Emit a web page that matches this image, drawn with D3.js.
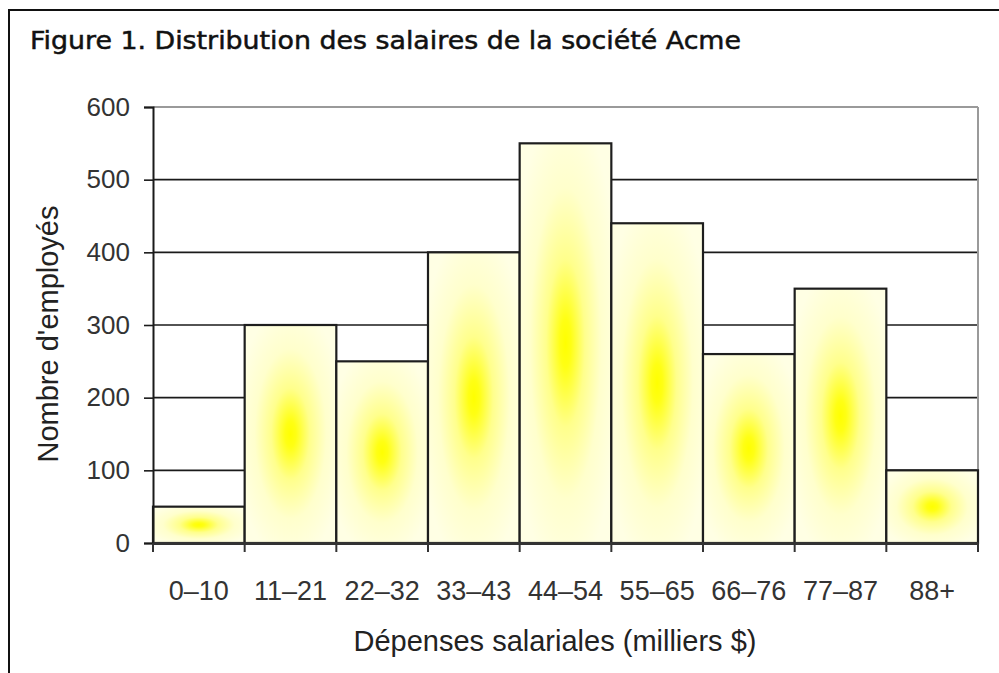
<!DOCTYPE html>
<html>
<head>
<meta charset="utf-8">
<script src="https://cdn.jsdelivr.net/npm/d3@7"></script>
<style>
  html, body { margin: 0; padding: 0; background: #fff; }
  svg { display: block; }
</style>
</head>
<body>
<script>
const categories = ["0–10", "11–21", "22–32", "33–43", "44–54", "55–65", "66–76", "77–87", "88+"];
const values = [50, 300, 250, 400, 550, 440, 260, 350, 100];
const yTicks = [0, 100, 200, 300, 400, 500, 600];
const titleText = "Figure 1. Distribution des salaires de la société Acme";
const xTitle = "Dépenses salariales (milliers $)";
const yTitle = "Nombre d'employés";

const W = 999, H = 673;
const svg = d3.select("body").append("svg").attr("width", W).attr("height", H);

// outer frame
svg.append("rect").attr("x", 9).attr("y", 10).attr("width", W + 10).attr("height", H + 10)
  .attr("fill", "#fff").attr("stroke", "#111").attr("stroke-width", 2);

// title
svg.append("text").attr("x", 30).attr("y", 49)
  .attr("font-family", "'DejaVu Sans', Verdana, sans-serif").attr("font-size", 24)
  .attr("fill", "#111").attr("stroke", "#111").attr("stroke-width", 0.5)
  .attr("textLength", 711).attr("lengthAdjust", "spacingAndGlyphs")
  .text(titleText);

const x = d3.scaleBand().domain(categories).range([153, 978]).padding(0);
const y = d3.scaleLinear().domain([0, 600]).range([543, 107]);

const defs = svg.append("defs");
const grad = defs.append("radialGradient").attr("id", "barGrad")
  .attr("cx", 0.5).attr("cy", 0.5).attr("r", 0.6);
[[0, "#ffff00"], [0.1, "#ffff14"], [0.35, "#ffff8c"], [0.65, "#ffffcc"], [1, "#ffffe4"]]
  .forEach(([o, c]) => grad.append("stop").attr("offset", o).attr("stop-color", c));

// plot background
svg.append("rect").attr("x", 153).attr("y", 107).attr("width", 825).attr("height", 436).attr("fill", "#fff");

// gridlines
svg.append("g").selectAll("line").data(yTicks.filter(d => d > 0)).join("line")
  .attr("x1", 153).attr("x2", 978)
  .attr("y1", d => y(d)).attr("y2", d => y(d))
  .attr("stroke", d => d === 600 ? "#9a9a9a" : "#1a1a1a").attr("stroke-width", d => d === 600 ? 2 : 1.6);
// right border of plot
svg.append("line").attr("x1", 978).attr("x2", 978).attr("y1", 107).attr("y2", 543)
  .attr("stroke", "#9a9a9a").attr("stroke-width", 2);

// bars
svg.append("g").selectAll("rect").data(values).join("rect")
  .attr("x", (d, i) => x(categories[i]))
  .attr("y", d => y(d))
  .attr("width", x.bandwidth())
  .attr("height", d => y(0) - y(d))
  .attr("fill", "url(#barGrad)")
  .attr("stroke", "#1e1e1e").attr("stroke-width", 2.2);

// y axis
const yAxis = svg.append("g").attr("transform", "translate(153,0)")
  .call(d3.axisLeft(y).tickValues(yTicks).tickSize(9).tickPadding(14).tickFormat(d3.format("d")));
yAxis.select(".domain").attr("stroke", "#1a1a1a").attr("stroke-width", 2);
yAxis.selectAll(".tick line").attr("stroke", "#1a1a1a").attr("stroke-width", 1.6);
yAxis.selectAll(".tick text").attr("font-family", "'Liberation Sans', Arial, sans-serif")
  .attr("font-size", 26).attr("fill", "#333");

// x axis
const xAxis = svg.append("g").attr("transform", "translate(0,543)")
  .call(d3.axisBottom(x).tickSize(0).tickPadding(38));
xAxis.select(".domain").attr("stroke", "#333").attr("stroke-width", 3);
xAxis.selectAll(".tick text").attr("font-family", "'Liberation Sans', Arial, sans-serif")
  .attr("font-size", 27).attr("fill", "#333");
// boundary tick marks
const bounds = categories.map(c => x(c)).concat([x.range()[1]]);
svg.append("g").selectAll("line").data(bounds).join("line")
  .attr("x1", d => d).attr("x2", d => d).attr("y1", 543).attr("y2", 552)
  .attr("stroke", "#333").attr("stroke-width", 2);

// axis titles
svg.append("text").attr("x", 555).attr("y", 651).attr("text-anchor", "middle")
  .attr("font-family", "'Liberation Sans', Arial, sans-serif").attr("font-size", 29).attr("fill", "#222")
  .text(xTitle);
svg.append("text").attr("transform", "translate(58,334) rotate(-90)").attr("text-anchor", "middle")
  .attr("font-family", "'Liberation Sans', Arial, sans-serif").attr("font-size", 29).attr("fill", "#222")
  .text(yTitle);
</script>
</body>
</html>
